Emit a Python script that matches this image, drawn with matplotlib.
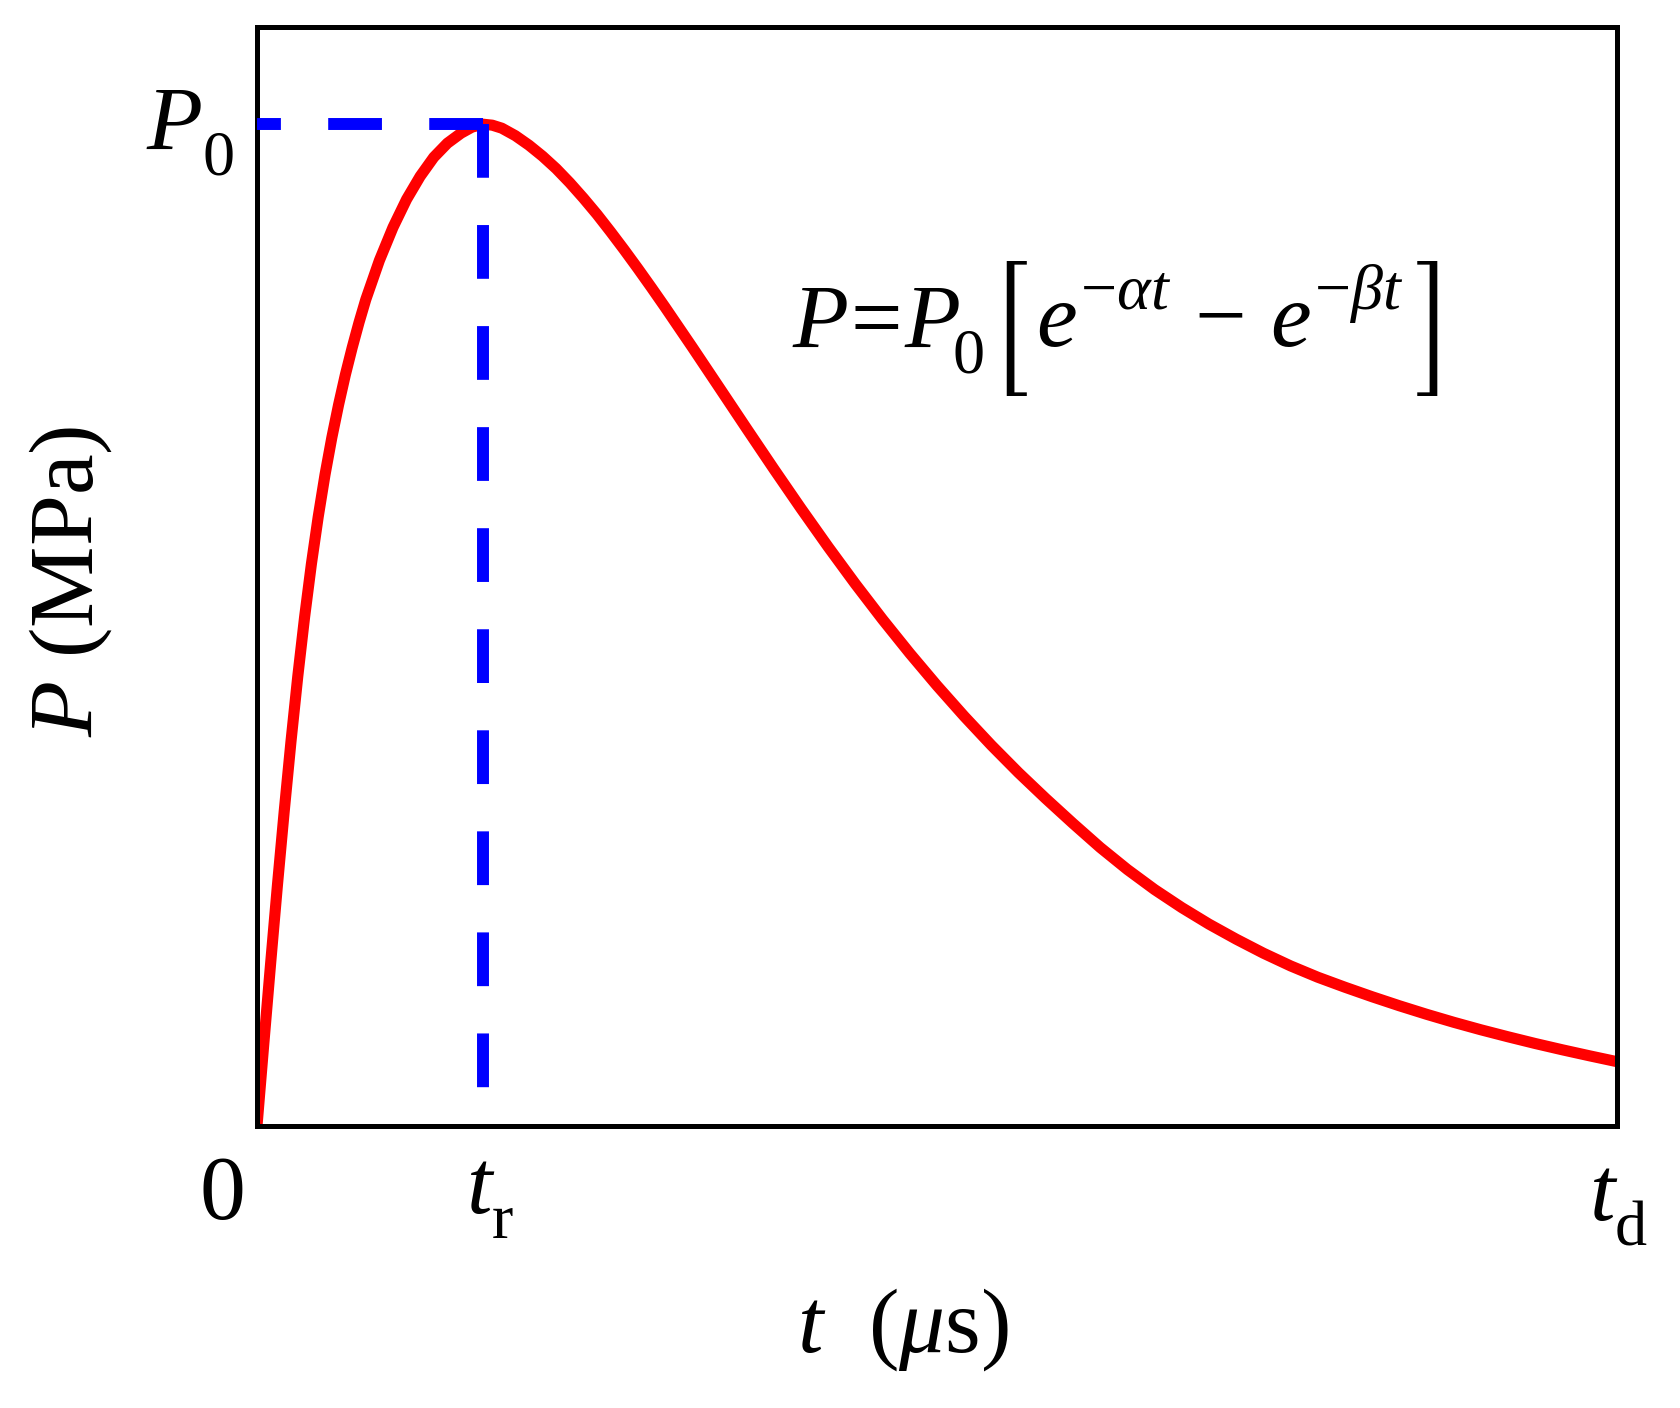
import os

import matplotlib
matplotlib.use("Agg")
import matplotlib.pyplot as plt
from matplotlib import _mathtext
from matplotlib.font_manager import FontProperties
from matplotlib.transforms import offset_copy
import numpy as np

# time as a fraction of t_d, pressure as a fraction of P0
t_norm = [0.000, 0.005, 0.010, 0.015, 0.020, 0.025, 0.030, 0.035, 0.040, 0.045,
          0.050, 0.055, 0.060, 0.065, 0.070, 0.075, 0.080, 0.090, 0.100, 0.110,
          0.120, 0.130, 0.140, 0.150, 0.158, 0.166, 0.173, 0.180, 0.190, 0.200,
          0.210, 0.220, 0.230, 0.240, 0.250, 0.260, 0.270, 0.280, 0.290, 0.300,
          0.320, 0.340, 0.360, 0.380, 0.400, 0.420, 0.440, 0.460, 0.480, 0.500,
          0.520, 0.540, 0.560, 0.580, 0.600, 0.620, 0.640, 0.660, 0.680, 0.700,
          0.720, 0.740, 0.760, 0.780, 0.800, 0.820, 0.840, 0.860, 0.880, 0.900,
          0.920, 0.940, 0.960, 0.980, 1.000]
p_norm = [0.000, 0.082, 0.162, 0.240, 0.314, 0.384, 0.449, 0.508, 0.561, 0.608,
          0.650, 0.687, 0.720, 0.750, 0.777, 0.802, 0.825, 0.864, 0.897, 0.925,
          0.948, 0.967, 0.981, 0.991, 0.997, 1.000, 0.999, 0.996, 0.9885, 0.979,
          0.968, 0.9556, 0.9415, 0.9262, 0.910, 0.8926, 0.8746, 0.856, 0.8369, 0.8174,
          0.7775, 0.7369, 0.6962, 0.6559, 0.6164, 0.578, 0.541, 0.5056, 0.4718, 0.4396,
          0.409, 0.380, 0.3526, 0.3268, 0.302, 0.278, 0.256, 0.236, 0.218, 0.2015,
          0.1865, 0.1725, 0.1598, 0.1485, 0.1385, 0.129, 0.120, 0.1115, 0.1035, 0.096,
          0.089, 0.0823, 0.076, 0.070, 0.0642]

x_tick_labels = ["0", r"$t_\mathrm{r}$", r"$t_\mathrm{d}$"]
y_tick_label = r"$P_0$"
formula_left = r"$P\!=\!P_{\!0}$"
formula_inner = r"$e^{-\alpha t}\,-\,e^{-\beta t}$"
x_label = r"$t$  ($\mu$s)"
y_label = r"$P$ (MPa)"

plt.rcParams["font.family"] = ["Liberation Serif", "DejaVu Serif"]
plt.rcParams["mathtext.fontset"] = "custom"
plt.rcParams["mathtext.rm"] = "Liberation Serif"
plt.rcParams["mathtext.it"] = "Liberation Serif:italic"
plt.rcParams["mathtext.fallback"] = "stix"
# scripts sit further from the baseline in the original (MathType style)
_mathtext.FontConstantsBase.sub1 = 0.6
_mathtext.FontConstantsBase.sup1 = 0.9

FS = 66
W, H = 1680, 1408

fig = plt.figure(figsize=(W / 100, H / 100), dpi=100)
ax = fig.add_axes([257 / W, 1 - 1126 / H, 1360 / W, 1099 / H])

ax.plot(t_norm, p_norm, color="#ff0000", lw=8, zorder=2)

i_peak = int(np.argmax(p_norm))
tr, p0 = t_norm[i_peak], p_norm[i_peak]
dash = (0, (4.5, 3.96))
ax.plot([tr, 0], [p0, p0], color="#0000ff", lw=8.6, linestyle=dash, zorder=3)
ax.plot([tr, tr], [p0, 0], color="#0000ff", lw=8.6, linestyle=dash, zorder=3)

ax.set_xlim(0, 1)
ax.set_ylim(0, 1.097)
ax.set_xticks([])
ax.set_yticks([])
for sp in ax.spines.values():
    sp.set_linewidth(3.6)

# tick labels, tied to the data positions
xt = ax.get_xaxis_transform()
for x, lab, dx, dy in zip([0, tr, 1], x_tick_labels, [-25, 5, 1], [-67, -63, -68]):
    ax.text(x, 0, lab, fontsize=FS, ha="center", va="baseline",
            transform=offset_copy(xt, fig=fig, x=dx, y=dy, units="points"))
yt = ax.get_yaxis_transform()
ax.text(0, p0, y_tick_label, fontsize=FS, ha="right", va="baseline",
        transform=offset_copy(yt, fig=fig, x=-16.5, y=-18.7, units="points"))

# formula with tall brackets
bracket_font = FontProperties(
    fname=os.path.join(matplotlib.get_data_path(), "fonts", "ttf", "STIXSizOneSymReg.ttf"),
    size=79)
y_base = 1 - 348 / H
y_mid = 1 - 328 / H
fig.text(792 / W, y_base, formula_left, fontsize=FS, ha="left", va="baseline")
fig.text(1007 / W, y_mid, "[", fontproperties=bracket_font, ha="center", va="center")
fig.text(1036 / W, y_base, formula_inner, fontsize=FS, ha="left", va="baseline")
fig.text(1436 / W, y_mid, "]", fontproperties=bracket_font, ha="center", va="center")

fig.text(903 / W, 1 - 1352 / H, x_label, fontsize=FS, ha="center", va="baseline")
fig.text(71 / W, 1 - 581 / H, y_label, fontsize=FS, rotation=90,
         ha="center", va="center")

fig.savefig("out.png", dpi=100)
